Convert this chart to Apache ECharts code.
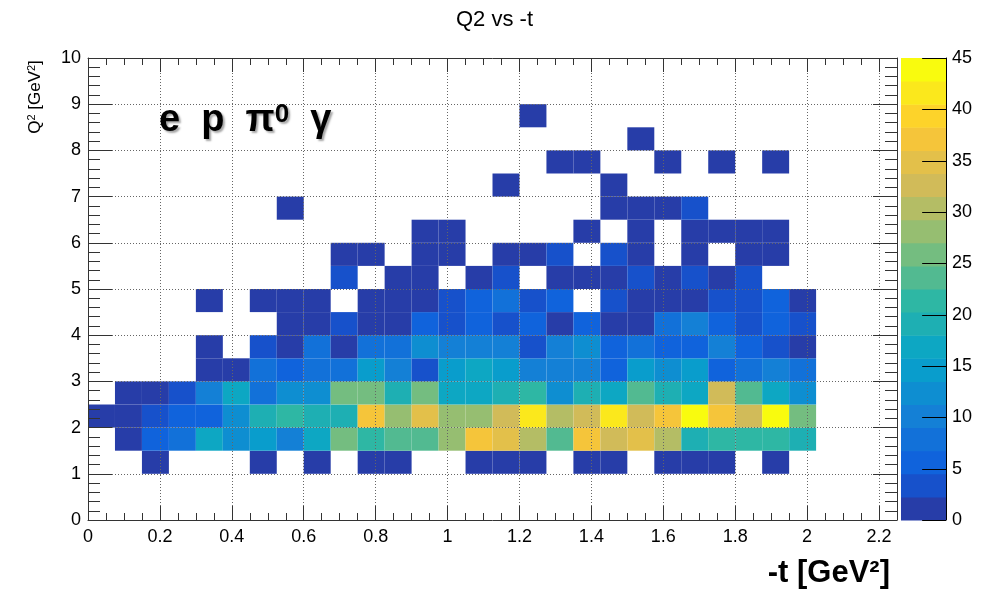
<!DOCTYPE html>
<html><head><meta charset="utf-8">
<script src="https://cdn.jsdelivr.net/npm/echarts@6/dist/echarts.min.js"></script>
<style>html,body{margin:0;padding:0;background:#fff}#c{width:989px;height:590px}</style>
</head><body><div id="c"></div>
<script>
// ---------------- data ----------------
const chartTitle = 'Q2 vs -t';
const xTitle = '-t [GeV²]';
const reactionLabel = 'e  p  π{s|0}  γ';

// bin low edges of -t (GeV²), bin width 0.075
const tBinLowEdges = [0, 0.075, 0.15, 0.225, 0.3, 0.375, 0.45, 0.525, 0.6, 0.675, 0.75, 0.825, 0.9,
  0.975, 1.05, 1.125, 1.2, 1.275, 1.35, 1.425, 1.5, 1.575, 1.65, 1.725, 1.8, 1.875, 1.95];
const tBinWidth = 0.075;
// bin low edges of Q² (GeV²), bin width 0.5
const q2BinLowEdges = [1.0, 1.5, 2.0, 2.5, 3.0, 3.5, 4.0, 4.5, 5.0, 5.5, 6.0, 6.5, 7.0, 7.5, 8.0, 8.5];
const q2BinWidth = 0.5;

// counts per Q² row (one value per -t bin)
const counts_q2_1_0 = [0,0,1,0,0,0,1,0,1,0,1,1,0,0,1,1,1,0,1,1,0,1,1,1,0,1,0];
const counts_q2_1_5 = [0,1,6,8,17,12,15,10,17,26,21,24,24,28,37,35,30,24,37,33,35,30,19,21,21,21,19];
const counts_q2_2_0 = [1,1,3,6,6,12,19,21,19,19,37,28,35,28,28,33,42,30,33,42,33,37,45,37,33,44,26];
const counts_q2_2_5 = [0,1,1,3,10,17,8,12,12,26,26,19,26,17,17,19,21,12,19,17,24,19,17,33,24,17,12];
const counts_q2_3_0 = [0,0,0,0,1,1,8,6,8,8,15,10,3,15,17,15,10,10,10,6,15,12,15,6,8,10,8];
const counts_q2_3_5 = [0,0,0,0,1,0,3,1,8,1,8,8,12,10,10,10,3,10,12,6,8,6,6,10,6,3,1];
const counts_q2_4_0 = [0,0,0,0,0,0,0,1,1,3,1,1,6,3,6,3,6,1,6,1,1,8,10,6,3,6,3];
const counts_q2_4_5 = [0,0,0,0,1,0,1,1,1,0,1,1,1,3,6,8,3,6,0,3,1,1,1,3,3,6,1];
const counts_q2_5_0 = [0,0,0,0,0,0,0,0,0,3,0,1,1,0,1,3,0,1,1,1,3,1,3,1,3,0,0];
const counts_q2_5_5 = [0,0,0,0,0,0,0,0,0,1,1,0,1,1,0,1,1,3,0,3,1,0,1,0,1,1,0];
const counts_q2_6_0 = [0,0,0,0,0,0,0,0,0,0,0,0,1,1,0,0,0,0,1,0,1,0,1,1,1,1,0];
const counts_q2_6_5 = [0,0,0,0,0,0,0,1,0,0,0,0,0,0,0,0,0,0,0,1,1,1,3,0,0,0,0];
const counts_q2_7_0 = [0,0,0,0,0,0,0,0,0,0,0,0,0,0,0,1,0,0,0,1,0,0,0,0,0,0,0];
const counts_q2_7_5 = [0,0,0,0,0,0,0,0,0,0,0,0,0,0,0,0,0,1,1,0,0,1,0,1,0,1,0];
const counts_q2_8_0 = [0,0,0,0,0,0,0,0,0,0,0,0,0,0,0,0,0,0,0,0,1,0,0,0,0,0,0];
const counts_q2_8_5 = [0,0,0,0,0,0,0,0,0,0,0,0,0,0,0,0,1,0,0,0,0,0,0,0,0,0,0];
const countRows = [counts_q2_1_0, counts_q2_1_5, counts_q2_2_0, counts_q2_2_5, counts_q2_3_0,
  counts_q2_3_5, counts_q2_4_0, counts_q2_4_5, counts_q2_5_0, counts_q2_5_5, counts_q2_6_0,
  counts_q2_6_5, counts_q2_7_0, counts_q2_7_5, counts_q2_8_0, counts_q2_8_5];

// colour scale (z axis)
const zMin = 0, zMax = 45, zTickStep = 5;
const zTickValues = [0, 5, 10, 15, 20, 25, 30, 35, 40, 45];
const paletteColors = ['#273da8','#1751cb','#1063dc','#1271d9','#1480d6','#0e8ed1','#099dcc','#0da7c3',
  '#1eafb3','#2eb7a4','#52ba91','#74bd80','#96be71','#b4bd65','#d1bb59','#e3c04a','#f5c53a','#fdd32a',
  '#fbe81c','#f9fb0e'];

// ---------------- build ----------------
const nLevels = paletteColors.length;
const levelStep = (zMax - zMin) / nLevels;
function colorFor(v) {
  let k = Math.floor((v - zMin) / levelStep);
  if (k < 0) k = 0; if (k >= nLevels) k = nLevels - 1;
  return paletteColors[k];
}
const cellData = [];
countRows.forEach((row, j) => {
  row.forEach((c, i) => { if (c > 0) cellData.push([tBinLowEdges[i], q2BinLowEdges[j], c]); });
});
const paletteData = paletteColors.map((col, k) => [zMin + k * levelStep, zMin + (k + 1) * levelStep, k]);

const FONT = '"Liberation Sans", Arial, Helvetica, sans-serif';
const axisCol = '#333';
const gridLine = { show: true, lineStyle: { color: '#666', type: [1, 2], width: 1 } };
const frameLine = { show: true, onZero: false, lineStyle: { color: axisCol, width: 1 } };
const noLine = { show: false, onZero: false };
const AZ = 10;

const chart = echarts.init(document.getElementById('c'), null, { renderer: 'canvas' });
chart.setOption({
  animation: false,
  backgroundColor: '#fff',
  title: { text: chartTitle, left: 'center', top: 4,
    textStyle: { fontFamily: FONT, fontSize: 22, fontWeight: 'normal', color: '#000' } },
  grid: [
    { left: 88, right: 92, top: 58, bottom: 70 },
    { left: 901, right: 43, top: 58, bottom: 70 }
  ],
  xAxis: [
    { gridIndex: 0, type: 'value', position: 'bottom', min: 0, max: 2.25, interval: 0.2, z: AZ,
      axisLine: frameLine,
      axisTick: { show: true, inside: true, length: 14, lineStyle: { color: axisCol } },
      axisLabel: { show: true, showMaxLabel: false, fontFamily: FONT, fontSize: 18, color: '#000', margin: 8 },
      splitLine: gridLine },
    { gridIndex: 0, type: 'value', position: 'bottom', min: 0, max: 2.25, interval: 0.05, z: AZ,
      axisLine: noLine,
      axisTick: { show: true, inside: true, length: 7, lineStyle: { color: axisCol } },
      axisLabel: { show: false }, splitLine: { show: false } },
    { gridIndex: 0, type: 'value', position: 'top', min: 0, max: 2.25, interval: 0.2, z: AZ,
      axisLine: frameLine,
      axisTick: { show: true, inside: true, length: 14, lineStyle: { color: axisCol } },
      axisLabel: { show: false }, splitLine: { show: false } },
    { gridIndex: 0, type: 'value', position: 'top', min: 0, max: 2.25, interval: 0.05, z: AZ,
      axisLine: noLine,
      axisTick: { show: true, inside: true, length: 7, lineStyle: { color: axisCol } },
      axisLabel: { show: false }, splitLine: { show: false } },
    { gridIndex: 1, type: 'value', min: 0, max: 1, show: false, axisLine: noLine }
  ],
  yAxis: [
    { gridIndex: 0, type: 'value', position: 'left', min: 0, max: 10, interval: 1, z: AZ,
      axisLine: frameLine,
      axisTick: { show: true, inside: true, length: 24, lineStyle: { color: axisCol } },
      minorTick: { show: true, splitNumber: 5, length: 12, lineStyle: { color: axisCol } },
      axisLabel: { show: true, fontFamily: FONT, fontSize: 18, color: '#000', margin: 7 },
      splitLine: gridLine },
    { gridIndex: 0, type: 'value', position: 'right', min: 0, max: 10, interval: 1, z: AZ,
      axisLine: frameLine,
      axisTick: { show: true, inside: true, length: 24, lineStyle: { color: axisCol } },
      minorTick: { show: true, splitNumber: 5, length: 12, lineStyle: { color: axisCol } },
      axisLabel: { show: false }, splitLine: { show: false } },
    { gridIndex: 1, type: 'value', position: 'right', min: zMin, max: zMax, interval: zTickStep, z: AZ,
      axisLine: { show: true, onZero: false, lineStyle: { color: '#000', width: 1 } },
      axisTick: { show: false },
      axisLabel: { show: true, fontFamily: FONT, fontSize: 18, color: '#000', margin: 6 },
      splitLine: { show: false } }
  ],
  series: [
    { type: 'custom', xAxisIndex: 0, yAxisIndex: 0, z: -10, data: cellData,
      renderItem: function (params, api) {
        const x0 = api.value(0), y0 = api.value(1), v = api.value(2);
        const p0 = api.coord([x0, y0]);
        const p1 = api.coord([x0 + tBinWidth, y0 + q2BinWidth]);
        return { type: 'rect',
          shape: { x: p0[0], y: p1[1], width: p1[0] - p0[0], height: p0[1] - p1[1] },
          style: { fill: colorFor(v), stroke: null } };
      } },
    { type: 'custom', xAxisIndex: 4, yAxisIndex: 2, z: -10, data: paletteData,
      renderItem: function (params, api) {
        const lo = api.value(0), hi = api.value(1), k = api.value(2);
        const p0 = api.coord([0, lo]);
        const p1 = api.coord([1, hi]);
        return { type: 'rect',
          shape: { x: p0[0], y: p1[1], width: p1[0] - p0[0], height: p0[1] - p1[1] + 0.5 },
          style: { fill: paletteColors[k] } };
      } },
    { type: 'custom', xAxisIndex: 4, yAxisIndex: 2, z: 20, data: zTickValues.map(v => [v]),
      renderItem: function (params, api) {
        const v = api.value(0);
        const a = api.coord([0.47, v]);
        const b = api.coord([1, v]);
        const y = Math.round(a[1]) + 0.5;
        return { type: 'line', shape: { x1: a[0], y1: y, x2: b[0], y2: y },
          style: { stroke: '#000', lineWidth: 1 } };
      } }
  ],
  graphic: [
    { type: 'text', x: 35, y: 97, rotation: Math.PI / 2, z: 20,
      style: { text: '{q|Q}{s|2}{q| [GeV}{s|2}{q|]}', align: 'center', verticalAlign: 'middle',
        fill: '#000',
        rich: { q: { fontFamily: FONT, fontSize: 17, fill: '#000' },
                s: { fontFamily: FONT, fontSize: 11, fill: '#000', verticalAlign: 'top' } } } },
    { type: 'text', x: 890, y: 573, z: 20,
      style: { text: xTitle, align: 'right', verticalAlign: 'middle', fill: '#000',
        fontFamily: FONT, fontSize: 31, fontWeight: 'bold' } },
    { type: 'text', x: 159, y: 121, z: 20,
      style: { text: reactionLabel, align: 'left', verticalAlign: 'middle', fill: '#000',
        fontFamily: FONT, fontSize: 38, fontWeight: 'bold',
        textShadowColor: 'rgba(0,0,0,0.35)', textShadowBlur: 2, textShadowOffsetX: 2, textShadowOffsetY: 2,
        rich: { s: { fontFamily: FONT, fontSize: 26, fontWeight: 'bold', fill: '#000', verticalAlign: 'top',
                     textShadowColor: 'rgba(0,0,0,0.35)', textShadowBlur: 2, textShadowOffsetX: 2, textShadowOffsetY: 2 } } } }
  ]
});
</script></body></html>
